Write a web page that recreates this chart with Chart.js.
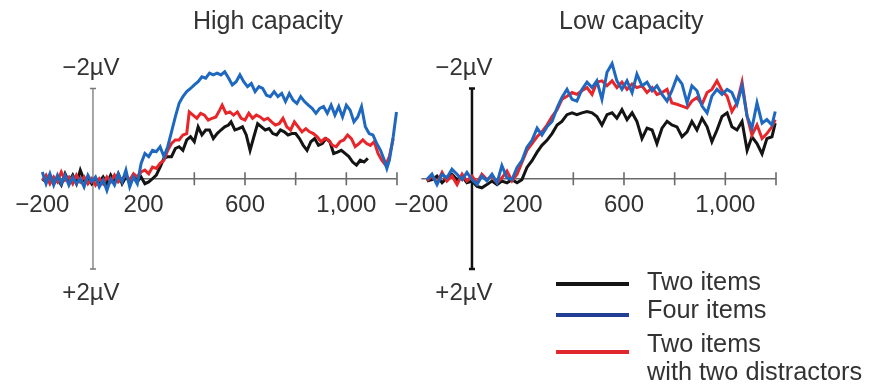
<!DOCTYPE html>
<html><head><meta charset="utf-8">
<script src="https://cdn.jsdelivr.net/npm/chart.js@4"></script>
<style>
html,body{margin:0;padding:0;background:#fff;}
#wrap{position:relative;width:869px;height:388px;overflow:hidden;font-family:"Liberation Sans",Arial,Helvetica,sans-serif;color:#333;}
canvas{position:absolute;top:0;}
.t{position:absolute;white-space:nowrap;line-height:1;}
.ln{position:absolute;height:4px;width:73px;left:556px;}
</style></head><body>
<div id="wrap">
<canvas id="c1" width="440" height="320" style="left:0px"></canvas>
<canvas id="c2" width="440" height="320" style="left:379px"></canvas>
<div class="t" style="font-size:25px;left:193px;top:8px">High capacity</div>
<div class="t" style="font-size:25px;left:559px;top:8px">Low capacity</div>
<div class="ln" style="top:282px;background:#151515"></div>
<div class="ln" style="top:313px;background:#233e95"></div>
<div class="ln" style="top:350px;background:#e0282c"></div>
<div class="t" style="font-size:25.3px;left:647px;top:268.6px">Two items</div>
<div class="t" style="font-size:25.3px;left:647px;top:296.9px">Four items</div>
<div class="t" style="font-size:25.3px;left:647px;top:330.9px">Two items</div>
<div class="t" style="font-size:25.3px;left:647px;top:358.6px">with two distractors</div>
</div>
<script>
// ---- labels / ticks ----
const seriesNames = ['Four items', 'Two items with two distractors', 'Two items'];
const xTickValues = [-200, 200, 600, 1000];
const xTickLabels = ['\u2212200', '200', '600', '1,000'];
const tickMarkValues = [400, 600, 800, 1000, 1200];
const yAxisValues = [-2, 2];
const yAxisLabels = ['\u22122\u00b5V', '+2\u00b5V'];

// ---- High capacity (ms, µV) ----
const highTimesBlue = [-200,-185,-170,-155,-140,-125,-110,-95,-80,-65,-50,-35,-20,-5,10,25,40,55,70,85,100,115,130,145,160,175,190,205,220,235,250,265,280,295,310,325,340,355,370,385,400,415,430,445,460,475,490,505,520,535,550,565,580,595,610,625,640,655,670,685,700,715,730,745,760,775,790,805,820,835,850,865,880,895,910,925,940,955,970,985,1000,1015,1030,1045,1060,1075,1090,1105,1120,1135,1150,1160,1170,1185,1198];
const highBlue = [-0.15,0.11,-0.11,0.14,-0.08,0.11,-0.08,0.14,-0.04,0.11,
  0,0.18,-0.08,0.07,-0.04,0.18,0.03,0.26,0,0.14,
  -0.11,0.07,-0.19,0.18,-0.04,0.11,-0.34,-0.56,-0.49,-0.63,
  -0.6,-0.71,-0.49,-0.71,-1.04,-1.37,-1.67,-1.82,-1.93,-2.0,
  -2.08,-2.15,-2.26,-2.23,-2.34,-2.3,-2.34,-2.3,-2.37,-2.23,
  -2.08,-2.15,-2.3,-2.15,-2.04,-2.11,-1.93,-2.04,-2.0,-1.85,
  -1.82,-1.93,-1.82,-1.89,-1.71,-1.89,-1.74,-1.67,-1.82,-1.71,
  -1.63,-1.56,-1.45,-1.56,-1.6,-1.45,-1.63,-1.41,-1.6,-1.37,
  -1.63,-1.52,-1.26,-1.37,-1.6,-1.15,-1.0,-0.97,-0.78,-0.63,
  -0.41,-0.23,-0.41,-0.93,-1.48];
const highTimesRed = [-200,-185,-170,-155,-140,-125,-110,-95,-80,-65,-50,-35,-20,-5,10,25,40,55,70,85,100,115,130,145,160,175,190,205,220,235,250,265,280,295,310,325,340,355,370,380,395,410,425,440,455,470,485,500,510,525,540,555,570,585,600,615,630,645,660,675,690,705,720,735,750,765,780,795,810,825,840,855,870,885,900,915,930,945,960,975,990,1005,1020,1035,1050,1065,1080,1095,1110,1125,1140,1155,1170,1185];
const highRed = [0.03,-0.08,0.11,-0.04,0.07,-0.15,0.03,-0.04,0.11,-0.08,
  0.07,-0.04,0.11,0,0.14,0,0.11,-0.04,0.07,-0.08,
  0.07,0,-0.08,0.03,-0.11,-0.04,-0.15,-0.19,-0.11,-0.26,
  -0.23,-0.34,-0.41,-0.63,-0.78,-0.86,-0.86,-0.97,-1.0,
  -1.48,
  -1.41,-1.34,-1.45,-1.41,-1.3,-1.34,-1.37,-1.52,
  -1.63,-1.45,-1.48,-1.41,-1.48,-1.34,-1.3,-1.45,-1.34,-1.41,
  -1.37,-1.3,-1.34,-1.26,-1.19,-1.22,-1.34,-1.15,-1.08,-1.26,
  -1.15,-1.04,-1.11,-1.04,-1.0,-0.93,-0.82,-0.89,-0.86,-0.74,
  -0.71,-0.82,-0.86,-0.97,-0.89,-0.71,-0.78,-0.86,-0.78,-0.74,
  -0.82,-0.56,-0.41,-0.3,-0.49,-0.89];
const highTimesBlack = [-200,-185,-170,-155,-140,-125,-110,-95,-80,-65,-50,-35,-20,-5,10,25,40,55,70,85,100,115,130,145,160,175,190,205,220,235,250,265,280,295,310,325,340,355,370,385,400,415,430,445,460,475,490,505,520,535,545,560,575,590,605,620,635,650,665,680,695,710,725,740,755,770,785,800,815,830,845,860,875,890,905,920,935,950,965,980,995,1010,1025,1040,1055,1070,1085];
const highBlack = [0,0.07,-0.08,0.11,0,0.14,-0.11,0.07,-0.08,0.11,
  -0.19,0.03,-0.04,0.11,0,0.07,-0.04,0.11,-0.08,0.07,
  -0.11,0.11,-0.04,0.07,-0.08,0.07,-0.04,0.11,0.07,0,
  -0.08,-0.26,-0.45,-0.49,-0.49,-0.67,-0.71,-0.63,-0.86,-0.93,
  -0.82,-1.15,-0.97,-1.08,-1.08,-0.89,-1.0,-1.08,-1.15,-1.19,
  -1.26,-1.08,-1.11,-1.15,-0.97,-0.63,-0.93,-1.22,-1.15,-1.08,
  -1.11,-1.0,-0.97,-1.08,-1.04,-0.97,-1.0,-1.0,-0.89,-0.74,
  -0.63,-0.82,-0.89,-0.74,-0.78,-0.89,-0.82,-0.56,-0.59,-0.63,
  -0.56,-0.49,-0.37,-0.3,-0.41,-0.37,-0.45];

// ---- Low capacity (ms, µV) ----
const lowTimes = [-178,-158,-138,-118,-99,-79,-59,-39,-20,0,20,39,59,79,99,118,138,158,178,197,217,237,257,276,296,316,336,355,375,395,414,434,454,474,493,513,533,553,572,592,612,632,651,671,691,711,730,750,770,789,809,829,849,868,888,908,928,947,967,987,1007,1026,1046,1066,1086,1105,1125,1145,1164,1184,1197];
const lowBlue = [0.02,-0.1,0.13,-0.1,-0.02,-0.21,-0.1,0.02,-0.14,0.02,
  0.13,-0.06,0.05,-0.1,0.09,-0.29,-0.02,0.02,-0.25,-0.4,
  -0.7,-0.85,-1.12,-0.97,-1.15,-1.27,-1.57,-1.8,-1.98,-1.76,
  -1.72,-1.98,-2.14,-2.02,-2.17,-1.76,-2.36,-2.55,-2.17,-1.98,
  -2.17,-1.91,-2.32,-2.06,-2.14,-1.95,-2.06,-1.87,-1.72,-1.95,
  -2.25,-2.1,-1.68,-2.06,-1.95,-1.61,-1.46,-1.83,-1.98,-1.87,
  -1.98,-1.91,-1.65,-2.06,-1.38,-1.12,-1.68,-1.23,-1.31,-1.19,
  -1.49];
const lowRed = [0.05,-0.06,0.09,-0.14,0.05,-0.06,0.13,-0.1,0.05,-0.06,
  0.09,-0.1,0.02,-0.06,0.09,-0.02,-0.17,0.05,-0.1,-0.36,
  -0.63,-0.78,-0.93,-1.04,-1.19,-1.38,-1.53,-1.76,-1.83,-1.91,
  -1.87,-1.95,-2.02,-1.87,-2.14,-2.17,-2.06,-2.17,-2.02,-2.14,
  -1.98,-2.1,-2.02,-2.06,-1.91,-2.02,-1.87,-1.91,-1.98,-1.68,
  -1.65,-1.61,-1.57,-1.72,-1.8,-1.65,-1.91,-1.98,-2.17,-1.95,
  -1.83,-1.49,-1.68,-2.14,-1.38,-0.97,-1.19,-0.89,-1.0,-1.15,
  -1.31];
const lowBlack = [0.05,0.02,-0.06,0.09,-0.02,-0.1,0.02,-0.06,0.09,0.05,
  0.17,0.2,0.13,0.05,0.13,0.05,0.09,0.02,0.09,0.02,
  -0.25,-0.4,-0.59,-0.74,-0.85,-1.0,-1.19,-1.27,-1.42,-1.46,
  -1.42,-1.46,-1.49,-1.46,-1.38,-1.19,-1.42,-1.46,-1.34,-1.53,
  -1.31,-1.46,-1.27,-0.89,-1.12,-1.08,-0.78,-1.12,-1.27,-1.19,
  -1.15,-0.93,-1.04,-1.27,-1.08,-1.34,-1.15,-0.82,-1.08,-1.38,
  -1.46,-1.15,-1.08,-1.27,-0.63,-0.93,-0.78,-0.55,-0.89,-0.93,
  -1.23];

const seriesColors = ['#1e68c0', '#e8262a', '#141414'];
const FONT = '"Liberation Sans", Arial, Helvetica, sans-serif';
Chart.defaults.font.family = FONT;

const erpAxes = {
  id: 'erpAxes',
  beforeDatasetsDraw(chart, args, o) {
    const {ctx} = chart;
    const x = chart.scales.x, y = chart.scales.y;
    const y0 = y.getPixelForValue(0);
    const x0 = x.getPixelForValue(0);
    ctx.save();
    ctx.strokeStyle = '#6a6a6a';
    ctx.lineWidth = 1.6;
    ctx.beginPath();
    ctx.moveTo(x.getPixelForValue(x.min), y0);
    ctx.lineTo(x.getPixelForValue(x.max), y0);
    tickMarkValues.forEach(v => {
      const px = x.getPixelForValue(v);
      ctx.moveTo(px, y0 - 6.5); ctx.lineTo(px, y0 + 6.5);
    });
    ctx.stroke();
    const yTop = y.getPixelForValue(yAxisValues[0]);
    const yBot = y.getPixelForValue(yAxisValues[1]);
    ctx.strokeStyle = o.yColor;
    ctx.lineWidth = o.yWidth;
    ctx.beginPath();
    ctx.moveTo(x0, yTop); ctx.lineTo(x0, yBot);
    ctx.moveTo(x0 - 3, yTop); ctx.lineTo(x0 + 3, yTop);
    ctx.moveTo(x0 - 3, yBot); ctx.lineTo(x0 + 3, yBot);
    ctx.stroke();
    ctx.fillStyle = '#333';
    ctx.font = '24px ' + FONT;
    ctx.textAlign = 'center';
    ctx.textBaseline = 'alphabetic';
    ctx.fillText(yAxisLabels[0], x0 + o.labelShift, yTop - 13.5);
    ctx.fillText(yAxisLabels[1], x0 + o.labelShift, yBot + 31);
    ctx.restore();
  }
};

function pts(t, v) { return t.map((tt, i) => ({x: tt, y: v[i]})); }

function makePanel(id, series, axisOpts) {
  return new Chart(document.getElementById(id), {
    type: 'line',
    data: {
      datasets: series.map((s, i) => ({
        label: seriesNames[i],
        data: pts(s[0], s[1]),
        borderColor: seriesColors[i],
        borderWidth: 3,
        pointRadius: 0,
        tension: 0,
        fill: false,
        clip: false
      }))
    },
    options: {
      responsive: false,
      animation: false,
      devicePixelRatio: 1,
      layout: {padding: {left: 42.3, right: 43, top: 61.4, bottom: 51}},
      plugins: {legend: {display: false}, tooltip: {enabled: false}, erpAxes: axisOpts},
      scales: {
        x: {
          type: 'linear', min: -200, max: 1200, position: {y: 0},
          grid: {display: false, drawTicks: false},
          border: {display: false},
          afterBuildTicks: s => { s.ticks = xTickValues.map(v => ({value: v})); },
          ticks: {autoSkip: false, maxRotation: 0, padding: 12, color: '#333',
                  font: {family: FONT, size: 24},
                  callback: (v, i) => xTickLabels[i]}
        },
        y: {type: 'linear', min: -2.6, max: 2, reverse: true, display: false}
      }
    },
    plugins: [erpAxes]
  });
}

makePanel('c1', [[highTimesBlue, highBlue], [highTimesRed, highRed], [highTimesBlack, highBlack]],
  {yColor: '#777', yWidth: 1.3, labelShift: -2});
makePanel('c2', [[lowTimes, lowBlue], [lowTimes, lowRed], [lowTimes, lowBlack]],
  {yColor: '#111', yWidth: 2.5, labelShift: -8});
</script>
</body></html>
